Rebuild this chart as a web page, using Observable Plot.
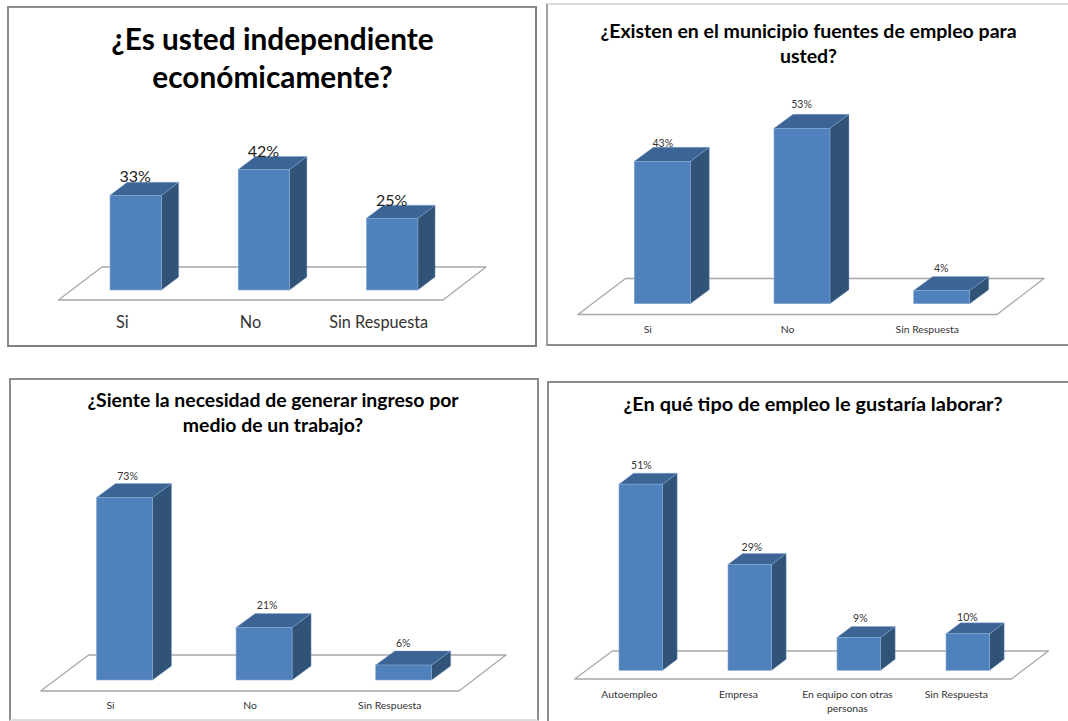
<!DOCTYPE html>
<html><head><meta charset="utf-8">
<script src="https://cdn.jsdelivr.net/npm/d3@7"></script>
<script src="https://cdn.jsdelivr.net/npm/@observablehq/plot@0.6"></script>
<style>
html,body{margin:0;padding:0;background:#fff;width:1068px;height:721px;overflow:hidden}
#page{position:relative;width:1068px;height:721px;font-family:Lato,"Noto Sans",sans-serif;overflow:hidden}
.panel{position:absolute;box-sizing:border-box;background:#fff}
.panel svg{position:absolute;left:0;top:0;overflow:visible}
.panel .title{position:absolute;text-align:center;font-weight:700;color:#000;white-space:pre}
</style></head><body><div id="page"></div>
<script>
// Survey values (percent)
const independenceCategories = ["Si", "No", "Sin Respuesta"];
const independenceValues = [33, 42, 25];
const jobSourcesCategories = ["Si", "No", "Sin Respuesta"];
const jobSourcesValues = [43, 53, 4];
const incomeNeedCategories = ["Si", "No", "Sin Respuesta"];
const incomeNeedValues = [73, 21, 6];
const jobTypeCategories = ["Autoempleo", "Empresa", "En equipo con otras\npersonas", "Sin Respuesta"];
const jobTypeValues = [51, 29, 9, 10];

const titles = [
  "¿Es usted independiente\neconómicamente?",
  "¿Existen en el municipio fuentes de empleo para\nusted?",
  "¿Siente la necesidad de generar ingreso por\nmedio de un trabajo?",
  "¿En qué tipo de empleo le gustaría laborar?"
];

const colors = {front: "#4f81bd", top: "#3c6494", side: "#325378", edge: "#86a9d3", floor: "#a8a8a8"};

// Layout of each panel, in pixels of the page
const panels = [
  {cats: independenceCategories, vals: independenceValues, title: titles[0],
   box: [7, 6, 530, 341], borderColor: "#8c8c8c #7f7f7f #7f7f7f #8c8c8c",
   barX: 110, step: 128.2, barW: 51.5, base: 290, ppp: 2.87, depX: 17.2, depY: 13,
   floor: {front: 300, back: 267, fl: 58.5, fr: 443, bl: 102, br: 486},
   catDx: -14, catDy: 21.5, catSize: 16.3, valSize: 16,
   valDy: [6, 5, 5], valDx: [-1, -1, -1], valFill: "#222",
   titleSize: 29.8, titleLine: 38, titleCx: 272.5, titleY: 38.5},
  {cats: jobSourcesCategories, vals: jobSourcesValues, title: titles[1],
   box: [546, 3, 540, 343], borderColor: "#dcdcdc #8c8c8c #8c8c8c #a0a0a0",
   barX: 634.3, step: 139.7, barW: 56, base: 303.7, ppp: 3.31, depX: 19, depY: 14,
   floor: {front: 314.5, back: 278.5, fl: 578, fr: 997, bl: 625.5, br: 1044},
   catDx: -15, catDy: 14.5, catSize: 10.4, valSize: 10.5,
   valDy: [4, 10, 8], valDx: [0, -1, -1], valFill: "#333",
   titleSize: 19.5, titleLine: 25, titleCx: 808.5, titleY: 30.5},
  {cats: incomeNeedCategories, vals: incomeNeedValues, title: titles[2],
   box: [9, 378, 530, 343], borderColor: "#8c8c8c #8c8c8c #dcdcdc #8c8c8c",
   barX: 96.5, step: 139.6, barW: 56, base: 680, ppp: 2.5, depX: 19, depY: 14,
   floor: {front: 691, back: 655, fl: 40.7, fr: 459, bl: 88.6, br: 506},
   catDx: -14.5, catDy: 14, catSize: 10.4, valSize: 10.5,
   valDy: [7.5, 8.5, 8], valDx: [2.5, 2.5, -1], valFill: "#333",
   titleSize: 19.4, titleLine: 24.7, titleCx: 273, titleY: 400.5},
  {cats: jobTypeCategories, vals: jobTypeValues, title: titles[3],
   box: [547, 381, 530, 350], borderColor: "#8c8c8c",
   barX: 619, step: 109, barW: 43.7, base: 670.3, ppp: 3.65, depX: 14.5, depY: 11,
   floor: {front: 679, back: 651, fl: 574.7, fr: 1011.4, bl: 612.4, br: 1048.4},
   catDx: -12, catDy: 15, catSize: 10.4, valSize: 10.5,
   valDy: [8, 6, 8, 6], valDx: [0, 1.5, 1, -1], valFill: "#333",
   titleSize: 19.9, titleLine: 25, titleCx: 813, titleY: 403}
];

const page = document.getElementById("page");

function drawPanel(p) {
  const [bx, by, bw, bh] = p.box;
  const div = document.createElement("div");
  div.className = "panel";
  div.style.cssText = `left:${bx}px;top:${by}px;width:${bw}px;height:${bh}px;border:2px solid;border-color:${p.borderColor}`;
  page.appendChild(div);

  // Scales: x = category index (bar's left edge at index), y = percent
  const X = px => (px - p.barX) / p.step;
  const Y = py => (p.base - py) / p.ppp;
  const w = p.barW / p.step, dx = p.depX / p.step, dy = p.depY / p.ppp;
  const inner = 2; // border width
  const W = bw - 2 * inner, H = bh - 2 * inner;
  const rows = p.cats.map((c, i) => ({c, i, v: p.vals[i]}));

  const floorRows = [
    {y: Y(p.floor.front), x1: X(p.floor.fl), x2: X(p.floor.fr)},
    {y: Y(p.floor.back), x1: X(p.floor.bl), x2: X(p.floor.br)}
  ];
  const sideRows = rows.flatMap(d => [
    {c: d.c, x: d.i + w, y1: 0, y2: d.v},
    {c: d.c, x: d.i + w + dx, y1: dy, y2: d.v + dy}
  ]);
  const topRows = rows.flatMap(d => [
    {c: d.c, y: d.v, x1: d.i, x2: d.i + w},
    {c: d.c, y: d.v + dy, x1: d.i + dx, x2: d.i + w + dx}
  ]);

  const svg = Plot.plot({
    width: W, height: H,
    marginTop: 0, marginRight: 0, marginBottom: 0, marginLeft: 0,
    style: {background: "transparent", fontFamily: "Lato, 'Noto Sans', sans-serif"},
    x: {domain: [X(bx + inner), X(bx + inner + W)], range: [0, W], axis: null},
    y: {domain: [Y(by + inner + H), Y(by + inner)], range: [H, 0], axis: null},
    marks: [
      Plot.areaX(floorRows, {y: "y", x1: "x1", x2: "x2", fill: "#fff", stroke: colors.floor, strokeWidth: 1.3}),
      Plot.areaY(sideRows, {x: "x", y1: "y1", y2: "y2", z: "c", fill: colors.side, stroke: colors.edge, strokeWidth: 0.4}),
      Plot.areaX(topRows, {y: "y", x1: "x1", x2: "x2", z: "c", fill: colors.top, stroke: colors.edge, strokeWidth: 0.4}),
      Plot.rect(rows, {x1: "i", x2: d => d.i + w, y1: 0, y2: "v", fill: colors.front, stroke: colors.edge, strokeWidth: 0.6}),
      Plot.text(rows, {
        x: d => d.i + w / 2, y: Y(p.floor.front), text: "c",
        dx: p.catDx, dy: p.catDy - p.catSize * 0.6, lineAnchor: "top", lineHeight: 1.35,
        fontSize: p.catSize, fill: "#333"
      }),
      Plot.text(rows, {
        x: d => d.i + w / 2 + (p.valDx[d.i] ?? 0) / p.step,
        y: d => d.v + dy + (p.valDy[d.i] ?? 6) / p.ppp,
        text: d => d.v + "%", lineAnchor: "middle",
        fontSize: p.valSize, fill: p.valFill
      })
    ]
  });
  div.appendChild(svg);

  const t = document.createElement("div");
  t.className = "title";
  t.textContent = p.title;
  t.style.cssText = `left:${p.titleCx - bx - inner - 300}px;width:600px;top:${p.titleY - by - inner - p.titleLine / 2}px;font-size:${p.titleSize}px;line-height:${p.titleLine}px`;
  div.appendChild(t);
}
panels.forEach(drawPanel);
</script></body></html>
